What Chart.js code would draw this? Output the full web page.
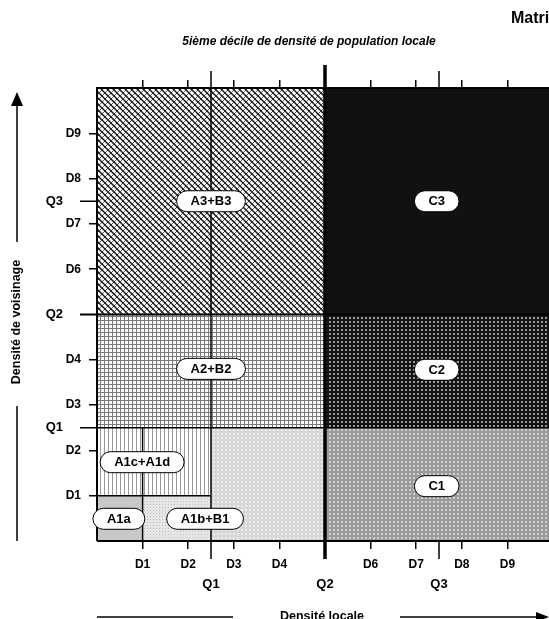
<!DOCTYPE html>
<html>
<head>
<meta charset="utf-8">
<script src="https://cdn.jsdelivr.net/npm/chart.js@4.4.0/dist/chart.umd.min.js"></script>
<style>
  html, body { margin: 0; padding: 0; background: #fff; overflow: hidden; }
  #wrap { width: 549px; height: 619px; overflow: hidden; }
  canvas { display: block; }
</style>
</head>
<body>
<div id="wrap"><canvas id="matrixChart" width="560" height="619"></canvas></div>
<script>
// cells of the matrix, in deciles of local density (x) and neighbourhood density (y)
const regionNames = ['A3+B3', 'A2+B2', 'A1c+A1d', 'A1a', 'A1b+B1', '', 'C3', 'C2', 'C1'];
const regionX0 = [0, 0, 0, 0, 1, 2.5, 5, 5, 5];
const regionX1 = [5, 5, 2.5, 1, 2.5, 5, 10, 10, 10];
const regionY0 = [5, 2.5, 1, 0, 0, 0, 5, 2.5, 0];
const regionY1 = [10, 5, 2.5, 1, 1, 2.5, 10, 5, 2.5];
const labelX = [2.5, 2.5, 0.99, 0.48, 2.37, null, 7.45, 7.45, 7.45];
const labelY = [7.5, 3.8, 1.74, 0.49, 0.49, null, 7.5, 3.78, 1.21];

const decileTicks = [1, 2, 3, 4, 6, 7, 8, 9];
const decileLabels = ['D1', 'D2', 'D3', 'D4', 'D6', 'D7', 'D8', 'D9'];
const quartileTicks = [2.5, 5, 7.5];
const quartileLabels = ['Q1', 'Q2', 'Q3'];

// divider lines: x0, y0, x1, y1
const dividerFrom = [[2.5, 0], [1, 0], [0, 1], [0, 2.5], [0, 5], [5, 0]];
const dividerTo = [[2.5, 10], [1, 2.5], [2.5, 1], [10, 2.5], [10, 5], [5, 10]];
const dividerWidth = [1.5, 1.5, 1.5, 1.5, 2, 3.5];

const FONT = '"Liberation Sans", Arial, sans-serif';

// small helper to build repeating fills
function makePattern(size, draw) {
    const c = document.createElement('canvas');
    c.width = size; c.height = size;
    const g = c.getContext('2d');
    draw(g, size);
    return g.createPattern(c, 'repeat');
}

const crossHatch = makePattern(6, (g, s) => {
    g.fillStyle = '#fff'; g.fillRect(0, 0, s, s);
    g.strokeStyle = '#5a5a5a'; g.lineWidth = 1;
    g.beginPath();
    g.moveTo(0, s); g.lineTo(s, 0);
    g.moveTo(-1, 1); g.lineTo(1, -1);
    g.moveTo(s - 1, s + 1); g.lineTo(s + 1, s - 1);
    g.stroke();
    g.strokeStyle = '#1a1a1a'; g.lineWidth = 1.5;
    g.beginPath();
    g.moveTo(0, 0); g.lineTo(s, s);
    g.moveTo(-1, s - 1); g.lineTo(1, s + 1);
    g.moveTo(s - 1, -1); g.lineTo(s + 1, 1);
    g.stroke();
});
const squareGrid = makePattern(4, (g, s) => {
    g.fillStyle = '#fff'; g.fillRect(0, 0, s, s);
    g.fillStyle = '#7a7a7a';
    g.fillRect(0, 0, 1, s); g.fillRect(0, 0, s, 1);
});
const verticalLines = makePattern(4, (g, s) => {
    g.fillStyle = '#fff'; g.fillRect(0, 0, s, s);
    g.fillStyle = '#999'; g.fillRect(0, 0, 1, s);
});
const lightDots = makePattern(3, (g, s) => {
    g.fillStyle = '#e6e6e6'; g.fillRect(0, 0, s, s);
    g.fillStyle = '#c0c0c0'; g.fillRect(0, 0, 1, 1);
});
const lightGrid = makePattern(4, (g, s) => {
    g.fillStyle = '#d6d6d6'; g.fillRect(0, 0, s, s);
    g.fillStyle = '#ececec'; g.fillRect(1, 1, 2, 2);
});
const darkDots = makePattern(4, (g, s) => {
    g.fillStyle = '#141414'; g.fillRect(0, 0, s, s);
    g.fillStyle = '#9a9a9a'; g.fillRect(1, 1, 2, 2);
});
const grayDots = makePattern(4, (g, s) => {
    g.fillStyle = '#9a9a9a'; g.fillRect(0, 0, s, s);
    g.fillStyle = '#d0d0d0'; g.fillRect(1, 1, 2, 2);
});

const regionFills = [crossHatch, squareGrid, verticalLines, '#c8c8c8', lightDots, lightGrid, '#111111', darkDots, grayDots];

const regionSets = regionNames.map((name, i) => ({
    label: name,
    data: [{ x: regionX0[i], y: regionY1[i] }, { x: regionX1[i], y: regionY1[i] }],
    fill: { value: regionY0[i] },
    backgroundColor: regionFills[i],
    borderColor: 'rgba(0,0,0,0)',
    borderWidth: 0,
    pointRadius: 0,
    order: 2
}));

const dividerSets = dividerFrom.map((p, i) => ({
    data: [{ x: p[0], y: p[1] }, { x: dividerTo[i][0], y: dividerTo[i][1] }],
    fill: false,
    borderColor: '#000',
    borderWidth: dividerWidth[i],
    pointRadius: 0,
    clip: false,
    order: 1
}));

const frameSet = {
    data: [{ x: 0, y: 0 }, { x: 10, y: 0 }, { x: 10, y: 10 }, { x: 0, y: 10 }, { x: 0, y: 0 }],
    fill: false,
    borderColor: '#000',
    borderWidth: 2,
    borderJoinStyle: 'miter',
    pointRadius: 0,
    clip: false,
    order: 0
};

function setDecileTicks(scale) {
    scale.ticks = decileTicks.map(v => ({ value: v }));
}
function decileLabel(value) {
    return decileLabels[decileTicks.indexOf(value)];
}

function pill(ctx, cx, cy, text) {
    ctx.font = 'bold 13px ' + FONT;
    const w = ctx.measureText(text).width + 28;
    const h = 21;
    const r = h / 2;
    const x0 = cx - w / 2, y0 = cy - h / 2;
    ctx.beginPath();
    ctx.moveTo(x0 + r, y0);
    ctx.lineTo(x0 + w - r, y0);
    ctx.arc(x0 + w - r, cy, r, -Math.PI / 2, Math.PI / 2);
    ctx.lineTo(x0 + r, y0 + h);
    ctx.arc(x0 + r, cy, r, Math.PI / 2, Math.PI * 1.5);
    ctx.closePath();
    ctx.fillStyle = '#fff';
    ctx.fill();
    ctx.lineWidth = 1;
    ctx.strokeStyle = '#000';
    ctx.stroke();
    ctx.fillStyle = '#000';
    ctx.textAlign = 'center';
    ctx.textBaseline = 'middle';
    ctx.fillText(text, cx, cy + 0.5);
}

// quartile ticks, cell labels, titles and arrows
const overlay = {
    id: 'overlay',
    afterDraw(chart) {
        const { ctx, chartArea: a, scales } = chart;
        const x = scales.x, y = scales.y;
        ctx.save();
        ctx.strokeStyle = '#000';
        ctx.fillStyle = '#000';

        quartileTicks.forEach((q, i) => {
            const px = x.getPixelForValue(q);
            const py = y.getPixelForValue(q);
            const isMid = q === 5;
            ctx.lineWidth = isMid ? 3.5 : 1.5;
            ctx.beginPath();
            ctx.moveTo(px, a.top - (isMid ? 23 : 17));
            ctx.lineTo(px, a.top);
            ctx.moveTo(px, a.bottom);
            ctx.lineTo(px, a.bottom + 18);
            ctx.stroke();
            ctx.lineWidth = isMid ? 2 : 1.5;
            ctx.beginPath();
            ctx.moveTo(a.left - 17, py);
            ctx.lineTo(a.left, py);
            ctx.stroke();

            ctx.font = 'bold 13px ' + FONT;
            ctx.textBaseline = 'middle';
            ctx.textAlign = 'right';
            ctx.fillText(quartileLabels[i], a.left - 34, py);
            ctx.textAlign = 'center';
            ctx.fillText(quartileLabels[i], px, a.bottom + 43);
        });

        regionNames.forEach((name, i) => {
            if (!name) return;
            pill(ctx, x.getPixelForValue(labelX[i]), y.getPixelForValue(labelY[i]), name);
        });

        // titles
        ctx.fillStyle = '#000';
        ctx.textBaseline = 'middle';
        ctx.textAlign = 'left';
        ctx.font = 'bold 16px ' + FONT;
        ctx.fillText('Matrice', 511, 19);
        ctx.textAlign = 'center';
        ctx.font = 'italic bold 12px ' + FONT;
        ctx.fillText('5ième décile de densité de population locale', 309, 42);

        // x axis title with arrow
        const by = a.bottom + 76;
        ctx.font = 'bold 12.5px ' + FONT;
        ctx.fillText('Densité locale', 322, by);
        ctx.lineWidth = 1.5;
        ctx.beginPath();
        ctx.moveTo(a.left, by); ctx.lineTo(233, by);
        ctx.moveTo(400, by); ctx.lineTo(538, by);
        ctx.stroke();
        ctx.beginPath();
        ctx.moveTo(549, by); ctx.lineTo(536, by - 5); ctx.lineTo(536, by + 5);
        ctx.closePath(); ctx.fill();

        // y axis title with arrow
        const lx = 17;
        ctx.save();
        ctx.translate(lx, 322);
        ctx.rotate(-Math.PI / 2);
        ctx.fillText('Densité de voisinage', 0, 0);
        ctx.restore();
        ctx.beginPath();
        ctx.moveTo(lx, 104); ctx.lineTo(lx, 242);
        ctx.moveTo(lx, 406); ctx.lineTo(lx, a.bottom);
        ctx.stroke();
        ctx.beginPath();
        ctx.moveTo(lx, 92); ctx.lineTo(lx - 6, 106); ctx.lineTo(lx + 6, 106);
        ctx.closePath(); ctx.fill();

        ctx.restore();
    }
};

const tickFont = { family: FONT, size: 12, weight: 'bold' };
const tickGrid = { drawOnChartArea: false, drawTicks: true, tickLength: 8, color: '#000', lineWidth: 1.5 };

new Chart(document.getElementById('matrixChart'), {
    type: 'line',
    data: { datasets: [frameSet, ...dividerSets, ...regionSets] },
    options: {
        responsive: false,
        animation: false,
        events: [],
        layout: { padding: { left: 0, top: 0, right: 7, bottom: 0 } },
        plugins: { legend: { display: false }, tooltip: { enabled: false }, title: { display: false } },
        scales: {
            x: {
                type: 'linear', position: 'bottom', min: 0, max: 10,
                afterBuildTicks: setDecileTicks,
                afterFit: s => { s.height = 78; },
                ticks: { callback: decileLabel, font: tickFont, color: '#000', padding: 8, autoSkip: false, maxRotation: 0 },
                grid: tickGrid,
                border: { display: false }
            },
            xTop: {
                type: 'linear', position: 'top', min: 0, max: 10,
                afterBuildTicks: setDecileTicks,
                afterFit: s => { s.height = 88; },
                ticks: { display: false },
                grid: tickGrid,
                border: { display: false }
            },
            y: {
                type: 'linear', position: 'left', min: 0, max: 10,
                afterBuildTicks: setDecileTicks,
                afterFit: s => { s.width = 97; },
                ticks: { callback: decileLabel, font: tickFont, color: '#000', padding: 8, autoSkip: false },
                grid: tickGrid,
                border: { display: false }
            }
        }
    },
    plugins: [overlay]
});
</script>
</body>
</html>
